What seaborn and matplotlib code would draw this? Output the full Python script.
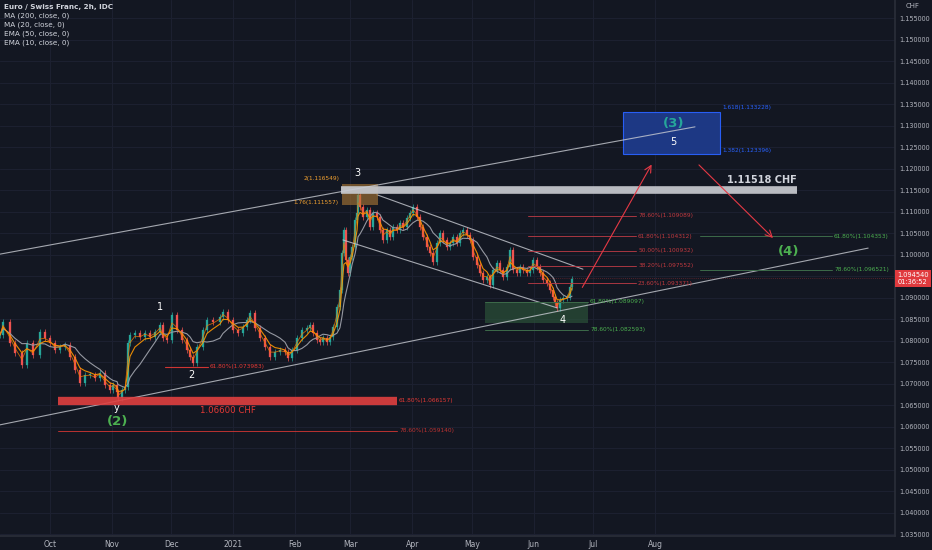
import numpy as np
import pandas as pd
import matplotlib
matplotlib.use("Agg")
import matplotlib.pyplot as plt
import seaborn as sns
from matplotlib.patches import Rectangle

# ---------------- data (days since 2020-10-01, price in CHF) ----------------
day = [-25.1, -23.6, -20.1, -17.6, -14.1, -11.6, -8.5, -5.0, -2.5, 0.0, 2.5, 5.0, 7.5,
       10.1, 12.6, 15.1, 17.6, 20.1, 22.6, 25.1, 27.6, 30.2, 31.7, 33.7, 34.2, 36.2, 37.7,
       39.2, 40.2, 42.7, 45.2, 47.7, 50.3, 52.8, 55.3, 56.8, 58.8, 61.3, 63.8, 66.3, 68.8,
       70.4, 71.9, 73.9, 76.9, 78.9, 81.9, 85.4, 86.9, 89.4, 92.0, 94.5, 97.0, 99.0, 100.5,
       103.0, 105.5, 108.0, 110.6, 113.1, 115.6, 118.1, 119.6, 121.6, 124.1, 126.6, 129.1,
       130.7, 132.2, 134.2, 135.7, 137.2, 139.2, 140.7, 142.2, 144.2, 145.7, 146.7, 147.7,
       148.7, 149.7, 150.8, 151.8, 153.3, 154.3, 154.8, 155.8, 157.3, 159.3, 160.8, 162.3,
       164.3, 165.8, 167.3, 169.3, 170.9, 172.4, 174.4, 175.9, 177.4, 179.4, 180.9, 182.4,
       184.4, 185.9, 187.4, 189.4, 191.0, 192.5, 194.5, 196.0, 197.5, 199.5, 201.0, 202.5,
       204.5, 206.0, 207.5, 209.5, 211.1, 212.6, 214.6, 216.1, 217.6, 219.6, 221.1, 222.6,
       224.6, 226.1, 227.6, 229.6, 231.2, 232.7, 234.7, 236.2, 237.7, 239.7, 241.2, 242.7,
       244.7, 246.2, 247.7, 249.7, 251.3, 252.8, 253.8, 254.8, 256.3, 257.8, 259.8, 261.3,
       262.3]
close = [1.0814, 1.0844, 1.0795, 1.0772, 1.0744, 1.0795, 1.0767, 1.0821, 1.0807, 1.0795,
         1.0779, 1.0786, 1.0791, 1.0763, 1.0733, 1.0702, 1.0721, 1.0721, 1.0714, 1.0726,
         1.0698, 1.0686, 1.0698, 1.0681, 1.0667, 1.0686, 1.0693, 1.0795, 1.0814, 1.0819,
         1.0809, 1.0819, 1.0809, 1.0821, 1.0837, 1.0807, 1.0802, 1.0860, 1.0826, 1.0802,
         1.0779, 1.0763, 1.0749, 1.0786, 1.0826, 1.0849, 1.0844, 1.0856, 1.0867, 1.0849,
         1.0826, 1.0819, 1.0833, 1.0849, 1.0865, 1.0830, 1.0807, 1.0786, 1.0763, 1.0774,
         1.0779, 1.0774, 1.0760, 1.0779, 1.0807, 1.0826, 1.0830, 1.0837, 1.0819, 1.0802,
         1.0798, 1.0807, 1.0798, 1.0809, 1.0833, 1.0879, 1.0919, 1.1005, 1.1058, 1.0988,
         1.0958, 1.0995, 1.1019, 1.1081, 1.1098, 1.1140, 1.1112, 1.1088, 1.1105, 1.1065,
         1.1098, 1.1088, 1.1058, 1.1035, 1.1058, 1.1042, 1.1065, 1.1058, 1.1074, 1.1065,
         1.1086, 1.1098, 1.1112, 1.1088, 1.1065, 1.1042, 1.1019, 1.1005, 1.0984, 1.1028,
         1.1051, 1.1035, 1.1019, 1.1028, 1.1042, 1.1028, 1.1051, 1.1058, 1.1047, 1.1035,
         1.0995, 1.0977, 1.0958, 1.0942, 1.0949, 1.0930, 1.0965, 1.0981, 1.0965, 1.0949,
         1.0972, 1.1012, 1.0965, 1.0958, 1.0972, 1.0965, 1.0958, 1.0965, 1.0988, 1.0972,
         1.0958, 1.0942, 1.0935, 1.0919, 1.0902, 1.0888, 1.0877, 1.0895, 1.0900, 1.0902,
         1.0926, 1.0944]

month_days = [0, 31, 61, 92, 123, 151, 182, 212, 243, 273, 304]
month_labels = ["Oct", "Nov", "Dec", "2021", "Feb", "Mar", "Apr", "May", "Jun", "Jul", "Aug"]
price_ticks = [1.155, 1.150, 1.145, 1.140, 1.135, 1.130, 1.125, 1.120, 1.115, 1.110, 1.105,
               1.100, 1.090, 1.085, 1.080, 1.075, 1.070, 1.065, 1.060, 1.055, 1.050, 1.045,
               1.040, 1.035]
last_price = 1.094540

legend_lines = ["Euro / Swiss Franc, 2h, IDC", "MA (200, close, 0)", "MA (20, close, 0)",
                "EMA (50, close, 0)", "EMA (10, close, 0)"]

# trend lines: (day0, price0, day1, price1)
upper_long = [-25.1, 1.1002, 324.1, 1.1298]
lower_long = [-25.1, 1.0605, 411.1, 1.1016]
desc_upper = [164.3, 1.1140, 267.8, 1.0967]
desc_lower = [147.2, 1.1035, 254.8, 1.0877]

resistance_level = 1.11518
resistance_span = [146.2, 375.4]
support_level = 1.066157
support_span = [4.0, 174.4]

wave3_zone = [146.7, 164.8, 1.111557, 1.116549]
target_zone = [287.9, 336.7, 1.123396, 1.133228]
wave4_zone = [218.6, 270.4, 1.0842, 1.089097]

arrow_up = [266.8, 1.0919, 303.0, 1.1216]
arrow_down = [325.1, 1.1214, 364.3, 1.1035]

retr_levels = [1.109089, 1.104312, 1.100932, 1.097552, 1.093371]
retr_labels = ["78.60%(1.109089)", "61.80%(1.104312)", "50.00%(1.100932)",
               "38.20%(1.097552)", "23.60%(1.093371)"]
retr_span = [240.2, 294.5]
green_right_levels = [1.104353, 1.096521]
green_right_labels = ["61.80%(1.104353)", "78.60%(1.096521)"]
green_right_span = [326.6, 393.0]
wave4_levels = [1.089097, 1.0826]
wave4_labels = ["61.80%(1.089097)", "78.60%(1.082593)"]
wave2_level = 1.073983
wave2_span = [57.8, 79.4]
deep_level = 1.059140

# ---------------- style ----------------
BG = "#131722"
GRID = "#1c2030"
TXT = "#b2b5be"
UP = "#26a69a"
DOWN = "#ef5350"
RED = "#e53935"
GREEN = "#4caf50"

sns.set_theme(style="dark", rc={"axes.facecolor": BG, "figure.facecolor": BG})
plt.rcParams["font.family"] = ["DejaVu Sans"]

fig = plt.figure(figsize=(9.32, 5.5), dpi=100)
ax = fig.add_axes([0, 14 / 550, 895 / 932, 536 / 550])
ax.set_facecolor(BG)
ax.set_xlim(-25.1, 424.6)
ax.set_ylim(1.03465, 1.15930)

# grid
for d in month_days:
    ax.axvline(d, color=GRID, lw=0.8, zorder=0)
for p in price_ticks:
    ax.axhline(p, color=GRID, lw=0.8, zorder=0)
ax.axhline(1.095, color=GRID, lw=0.8, zorder=0)

df = pd.DataFrame({"day": day, "close": close})
df["open"] = df["close"].shift(1).fillna(df["close"].iloc[0])
df["ma200"] = df["close"].rolling(8, min_periods=1).mean()
df["ema50"] = df["close"].ewm(span=4).mean()
df["ema10"] = df["close"].ewm(span=2).mean()

# candles
up = df["close"] >= df["open"]
lo = np.minimum(df["open"], df["close"])
hi = np.maximum(df["open"], df["close"])
ax.vlines(df["day"], lo - 0.0007, hi + 0.0007,
          colors=np.where(up, UP, DOWN), lw=0.5, zorder=2)
for mask, col in [(up, UP), (~up, DOWN)]:
    sub = df[mask]
    h = (sub["close"] - sub["open"]).abs().clip(lower=0.00025)
    ax.bar(sub["day"], h, bottom=np.minimum(sub["open"], sub["close"]),
           width=1.2, color=col, edgecolor=col, linewidth=0.2, zorder=3)

sns.lineplot(data=df, x="day", y="ma200", ax=ax, color="#9598a1", lw=0.8, zorder=4)
sns.lineplot(data=df, x="day", y="ema50", ax=ax, color="#ff9800", lw=0.8, alpha=0.9, zorder=4)
sns.lineplot(data=df, x="day", y="ema10", ax=ax, color="#f57c00", lw=0.6, alpha=0.8, zorder=4)

# trend lines
for seg in [lower_long, desc_upper, desc_lower]:
    ax.plot([seg[0], seg[2]], [seg[1], seg[3]], color="#c9ccd3", lw=0.8, alpha=0.8, zorder=5)

# zones
ax.add_patch(Rectangle((wave3_zone[0], wave3_zone[2]), wave3_zone[1] - wave3_zone[0],
                       wave3_zone[3] - wave3_zone[2], facecolor="#b07a35", alpha=0.6,
                       edgecolor="none", zorder=6))
ax.add_patch(Rectangle((target_zone[0], target_zone[2]), target_zone[1] - target_zone[0],
                       target_zone[3] - target_zone[2], facecolor="#1e3a8a", alpha=0.95,
                       edgecolor="#2962ff", lw=0.8, zorder=6))
ax.add_patch(Rectangle((wave4_zone[0], wave4_zone[2]), wave4_zone[1] - wave4_zone[0],
                       wave4_zone[3] - wave4_zone[2], facecolor="#2e5a3c", alpha=0.6,
                       edgecolor="none", zorder=1))
ax.plot([upper_long[0], upper_long[2]], [upper_long[1], upper_long[3]], color="#c9ccd3",
        lw=0.8, alpha=0.8, zorder=7)

# resistance / support bars
ax.plot(resistance_span, [resistance_level] * 2, color="#c8cad0", lw=5.5, alpha=0.92,
        solid_capstyle="butt", zorder=6)
ax.plot(support_span, [support_level] * 2, color="#e04040", lw=6, alpha=0.9,
        solid_capstyle="butt", zorder=6)
ax.plot(support_span, [deep_level] * 2, color=RED, lw=0.7, alpha=0.8, zorder=5)
ax.plot(wave2_span, [wave2_level] * 2, color=RED, lw=0.8, alpha=0.9, zorder=5)
ax.text(wave2_span[1] + 1, wave2_level, "61.80%(1.073983)", color=RED, fontsize=4.2,
        va="center", ha="left", zorder=8)
ax.text(support_span[1] + 1, support_level, "61.80%(1.066157)", color=RED, fontsize=4.2,
        va="center", ha="left", zorder=8)
ax.text(support_span[1] + 1, deep_level, "78.60%(1.059140)", color=RED, fontsize=4.2,
        va="center", ha="left", alpha=0.8, zorder=8)
ax.text(89.4, 1.0638, "1.06600 CHF", color=RED, fontsize=6.2, ha="center", va="center",
        zorder=8)
ax.text(resistance_span[1], 1.1174, "1.11518 CHF", color="#d1d4dc", fontsize=7,
        fontweight="bold", ha="right", va="center", zorder=8)

# retracement lines
for lv, lb in zip(retr_levels, retr_labels):
    ax.plot(retr_span, [lv, lv], color="#b83a45", lw=0.7, alpha=0.9, zorder=5)
    ax.text(retr_span[1] + 1, lv, lb, color="#c0393f", fontsize=4.2, va="center",
            ha="left", zorder=8)
for lv, lb in zip(green_right_levels, green_right_labels):
    ax.plot(green_right_span, [lv, lv], color="#3d6b4a", lw=0.7, zorder=5)
    ax.text(green_right_span[1] + 1, lv, lb, color=GREEN, fontsize=4.2, va="center",
            ha="left", zorder=8)
for lv, lb in zip(wave4_levels, wave4_labels):
    ax.plot(wave4_zone[:2], [lv, lv], color="#3d6b4a", lw=0.7, zorder=5)
    ax.text(wave4_zone[1] + 1, lv, lb, color=GREEN, fontsize=4.2, va="center",
            ha="left", zorder=8)

# fib labels of zones
ax.text(145.7, 1.1177, "2(1.116549)", color="#f0a030", fontsize=4.2, ha="right",
        va="center", zorder=8)
ax.text(145.2, 1.1123, "1.76(1.111557)", color="#f0a030", fontsize=4.2, ha="right",
        va="center", zorder=8)
ax.text(337.7, 1.1344, "1.618(1.133228)", color="#2962ff", fontsize=4.2, ha="left",
        va="center", zorder=8)
ax.text(337.7, 1.1244, "1.382(1.123396)", color="#2962ff", fontsize=4.2, ha="left",
        va="center", zorder=8)

# arrows
for a in [arrow_up, arrow_down]:
    ax.annotate("", xy=(a[2], a[3]), xytext=(a[0], a[1]),
                arrowprops=dict(arrowstyle="->", color="#e53945", lw=0.8), zorder=8)

# wave labels
waves = [("1", 55.3, 1.0879, "white", 7, "normal"),
         ("2", 70.9, 1.0721, "white", 7, "normal"),
         ("3", 154.3, 1.1191, "white", 7, "normal"),
         ("4", 257.8, 1.0849, "white", 7, "normal"),
         ("5", 313.1, 1.1263, "white", 7, "normal"),
         ("y", 33.7, 1.0644, "white", 7, "normal"),
         ("(2)", 34.2, 1.0612, GREEN, 9.5, "bold"),
         ("(3)", 313.6, 1.1305, UP, 9.5, "bold"),
         ("(4)", 371.4, 1.1009, GREEN, 9.5, "bold")]
for t, x, y, c, s, w in waves:
    ax.text(x, y, t, color=c, fontsize=s, fontweight=w, ha="center", va="center", zorder=9)

# axes formatting
ax.set_xticks(month_days)
ax.set_xticklabels(month_labels)
ax.tick_params(axis="x", colors=TXT, labelsize=5.5, length=0, pad=3)
ax.yaxis.tick_right()
ax.set_yticks(price_ticks)
ax.set_yticklabels([f"{p:.6f}" for p in price_ticks])
ax.tick_params(axis="y", colors=TXT, labelsize=4.7, length=0, pad=3)
ax.set_xlabel("")
ax.set_ylabel("")
for s in ["top", "left"]:
    ax.spines[s].set_visible(False)
ax.spines["right"].set_color("#2a2e39")
ax.spines["bottom"].set_color("#2a2e39")

# header legend
for i, t in enumerate(legend_lines):
    fig.text(4 / 932, 1 - (7 + 9 * i) / 550, t, color="#d1d4dc", fontsize=5.2,
             fontweight="bold" if i == 0 else "normal", ha="left", va="center")
fig.text(913 / 932, 1 - 6 / 550, "CHF", color=TXT, fontsize=5, ha="center", va="center")

# current price label
ylab = ax.transData.transform((0, last_price))[1] / 550
fig.text(913 / 932, ylab, "1.094540\n01:36:52", color="white", fontsize=4.8,
         ha="center", va="center", linespacing=1.1,
         bbox=dict(boxstyle="square,pad=0.35", facecolor="#e03a3e", edgecolor="none"))
ax.axhline(last_price, xmin=0.6, color="#e03a3e", lw=0.5, ls=(0, (1, 2)), alpha=0.6, zorder=2)

fig.savefig("out.png", dpi=100, facecolor=BG)
